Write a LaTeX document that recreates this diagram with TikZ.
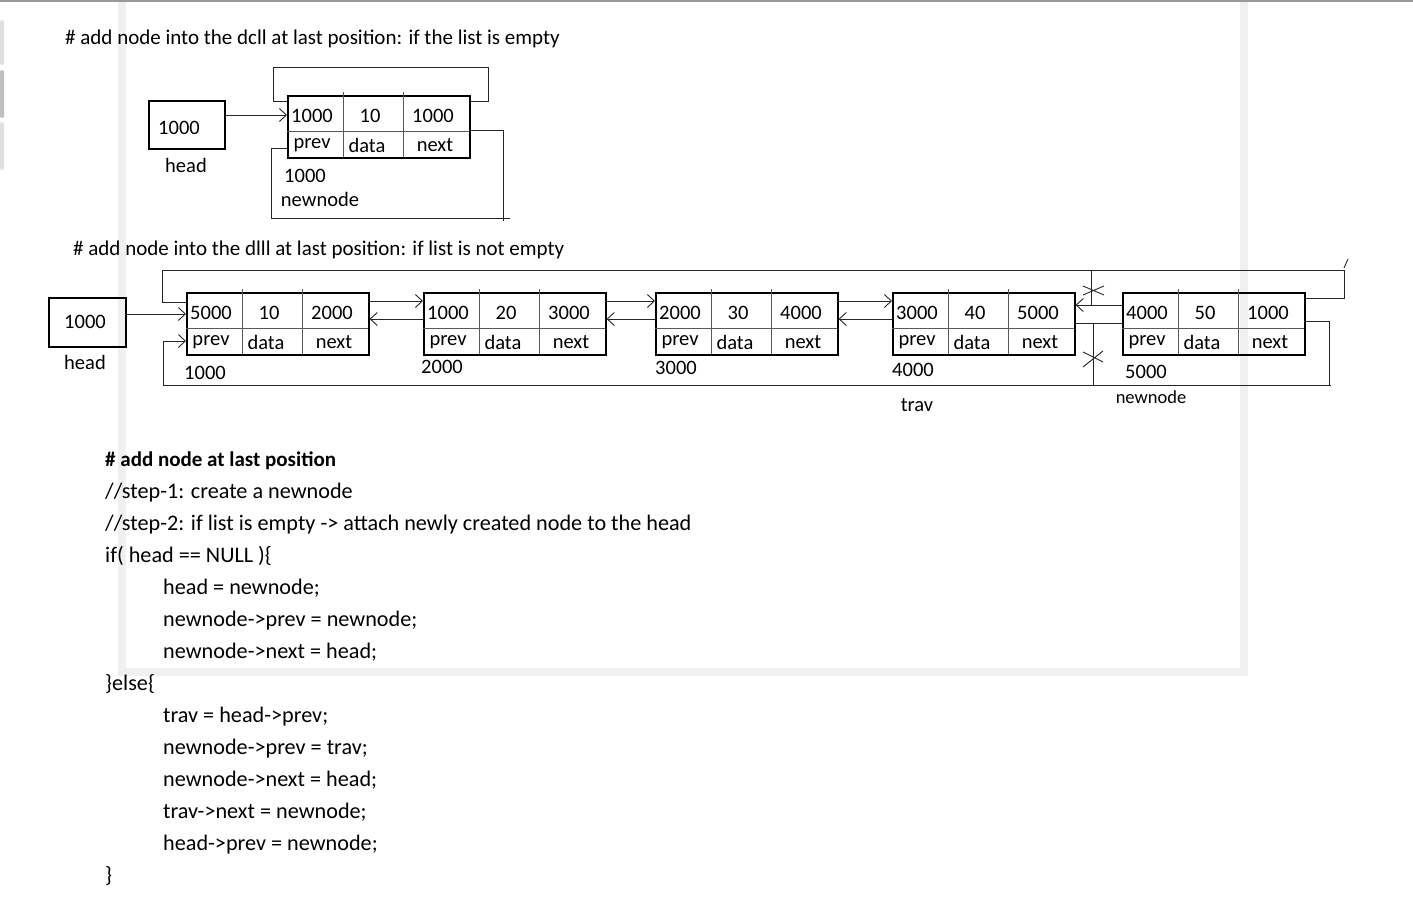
\documentclass[tikz,border=0pt]{standalone}
\usepackage{fontspec}
\setmainfont{Carlito}
\usetikzlibrary{arrows.meta,calc}
\tikzset{
  box/.style={draw, line width=1.6pt, inner sep=0pt},
  lnk/.style={line width=0.9pt, draw=black!85},
  arr/.style={lnk, -{Straight Barb[length=7pt,width=13pt,line width=0.9pt]}},
  txt/.style={font=\fontsize{20.5}{23}\selectfont, inner sep=0pt},
  smalltxt/.style={font=\fontsize{18.5}{21}\selectfont, inner sep=0pt},
  code/.style={font=\fontsize{22.2}{26}\selectfont, inner sep=0pt, anchor=base west},
  title/.style={font=\fontsize{21}{24}\selectfont, inner sep=0pt, anchor=base west},
  framefill/.style={fill=black!6, draw=none},
  divider/.style={line width=0.8pt, draw=black!65},
}
\newcommand{\dllnode}[6]{%
  \node[box, anchor=north west, minimum width=182pt, minimum height=62pt] (#1) at (#2,#3) {};
  \draw[divider] (#2,#3+36) -- (#2+182,#3+36)
    (#2+56,#3-3) -- (#2+56,#3+62)
    (#2+116,#3-3) -- (#2+116,#3+62);
  \node[txt] (#1p) at (#2+25,#3+21) {#4};
  \node[txt] (#1d) at (#2+83,#3+21) {#5};
  \node[txt] (#1n) at (#2+146,#3+21) {#6};
  \node[txt] (#1pl) at (#2+25,#3+50) {prev};
  \node[txt] (#1dl) at (#2+80,#3+50) {data};
  \node[txt] (#1nl) at (#2+148,#3+50) {next};
}
\begin{document}
\begin{tikzpicture}[x=1pt,y=-1pt]
\useasboundingbox (0,0) rectangle (1413,915);
% background frame
\fill[black!40] (0,0) rectangle (1413,2);
\fill[framefill] (118,2) rectangle (126,676);
\fill[framefill] (118,668) rectangle (1248,676);
\fill[framefill] (1240,2) rectangle (1248,676);
\fill[black!12, rounded corners=2pt] (0,20) rectangle (4,65);
\fill[black!25, rounded corners=2pt] (0,70) rectangle (4,118);
\fill[black!12, rounded corners=2pt] (0,122) rectangle (4,170);

% ---------- top diagram ----------
\node[title] (t1) at (65,45) {\# add node into the dcll at last position: if the list is empty};
\node[box, anchor=north west, minimum width=76pt, minimum height=48pt] (h1) at (148,100) {};
\node[txt] (h1v) at (179,128) {1000};
\node[txt] (h1l) at (186,165) {head};
\dllnode{n0}{287}{95}{1000}{10}{1000}
\draw[arr] ($(h1.north east)+(0,15)$) -- ($(n0.north west)+(0,20)$);
\draw[lnk] ($(n0.north west)+(0,6)$) -- ++(-14,0) -- ++(0,-34) -- ++(215,0) -- ++(0,34) -- ($(n0.north east)+(0,6)$);
\draw[lnk] ($(n0.north east)+(0,35)$) -- ++(33,0) -- ++(0,91);
\draw[lnk] (510,218) -- (271,218) -- (271,148) -- ($(n0.north west)+(0,53)$);
\node[txt] (n0a) at (305,176) {1000};
\node[txt] (n0l) at (320,199) {newnode};

% ---------- second diagram ----------
\node[title] (t2) at (73,255) {\# add node into the dlll at last position: if list is not empty};
\node[box, anchor=north west, minimum width=77pt, minimum height=49pt] (h2) at (48,297) {};
\node[txt] (h2v) at (85,322) {1000};
\node[txt] (h2l) at (85,362) {head};
\dllnode{n1}{186}{292}{5000}{10}{2000}
\dllnode{n2}{423}{292}{1000}{20}{3000}
\dllnode{n3}{655}{292}{2000}{30}{4000}
\dllnode{n4}{892}{292}{3000}{40}{5000}
\dllnode{n5}{1122}{292}{4000}{50}{1000}
\node[txt] (a1) at (205,373) {1000};
\node[txt] (a2) at (442,367) {2000};
\node[txt] (a3) at (676,368) {3000};
\node[txt] (a4) at (913,370) {4000};
\node[txt] (a5) at (1146,372) {5000};
\node[txt] (trav) at (917,405) {trav};
\node[smalltxt] (nn) at (1151,397) {newnode};

\draw[arr] ($(h2.north east)+(0,17)$) -- ($(n1.north west)+(0,22)$);
\foreach \a/\b in {n1/n2,n2/n3,n3/n4}{
  \draw[arr] ($(\a.north east)+(0,9)$) -- ($(\b.north west)+(0,9)$);
  \draw[arr] ($(\b.north west)+(0,27)$) -- ($(\a.north east)+(0,27)$);
}
% newnode <-> trav
\draw[arr] ($(n5.north west)+(0,13)$) -- ($(n4.north east)+(0,13)$);
\draw[lnk] ($(n4.north east)+(0,31)$) -- ($(n5.north west)+(0,31)$);
% top loop: newnode->next = head
\draw[lnk] ($(n1.north west)+(0,10)$) -- ++(-24,0) -- ++(0,-32) -- ++(1182,0) -- ++(0,28) -- ($(n5.north east)+(0,6)$);
\draw[lnk] (1344,268) -- (1348,259);
% old head->prev link (crossed out)
\draw[lnk] (1091,270) -- (1091,305);
\draw[lnk] (1083,286) -- (1104,295) (1083,295) -- (1104,286);
% bottom loop: head->prev = newnode
\draw[arr] ($(n5.north east)+(0,29)$) -- ++(24,0) -- ++(0,64) -- ++(-1166,0) -- ++(0,-44) -- ($(n1.north west)+(0,49)$);
\draw[lnk] (1328,385) -- (1331,385);
% old trav->next link (crossed out)
\draw[lnk] (1093,323) -- (1093,385);
\draw[lnk] (1083,367) -- (1103,351) (1083,352) -- (1103,362);

% ---------- code ----------
\node[code, font=\fontsize{21}{24}\selectfont\bfseries] (c0) at (105,466) {\# add node at last position};
\node[code] (c1) at (105,498) {//step-1: create a newnode};
\node[code] (c2) at (105,530) {//step-2: if list is empty -> attach newly created node to the head};
\node[code] (c3) at (105,562) {if( head == NULL )\{};
\node[code] (c4) at (163,594) {head = newnode;};
\node[code] (c5) at (163,626) {newnode->prev = newnode;};
\node[code] (c6) at (163,658) {newnode->next = head;};
\node[code] (c7) at (105,690) {\}else\{};
\node[code] (c8) at (163,722) {trav = head->prev;};
\node[code] (c9) at (163,754) {newnode->prev = trav;};
\node[code] (c10) at (163,786) {newnode->next = head;};
\node[code] (c11) at (163,818) {trav->next = newnode;};
\node[code] (c12) at (163,850) {head->prev = newnode;};
\node[code] (c13) at (105,882) {\}};
\end{tikzpicture}
\end{document}
